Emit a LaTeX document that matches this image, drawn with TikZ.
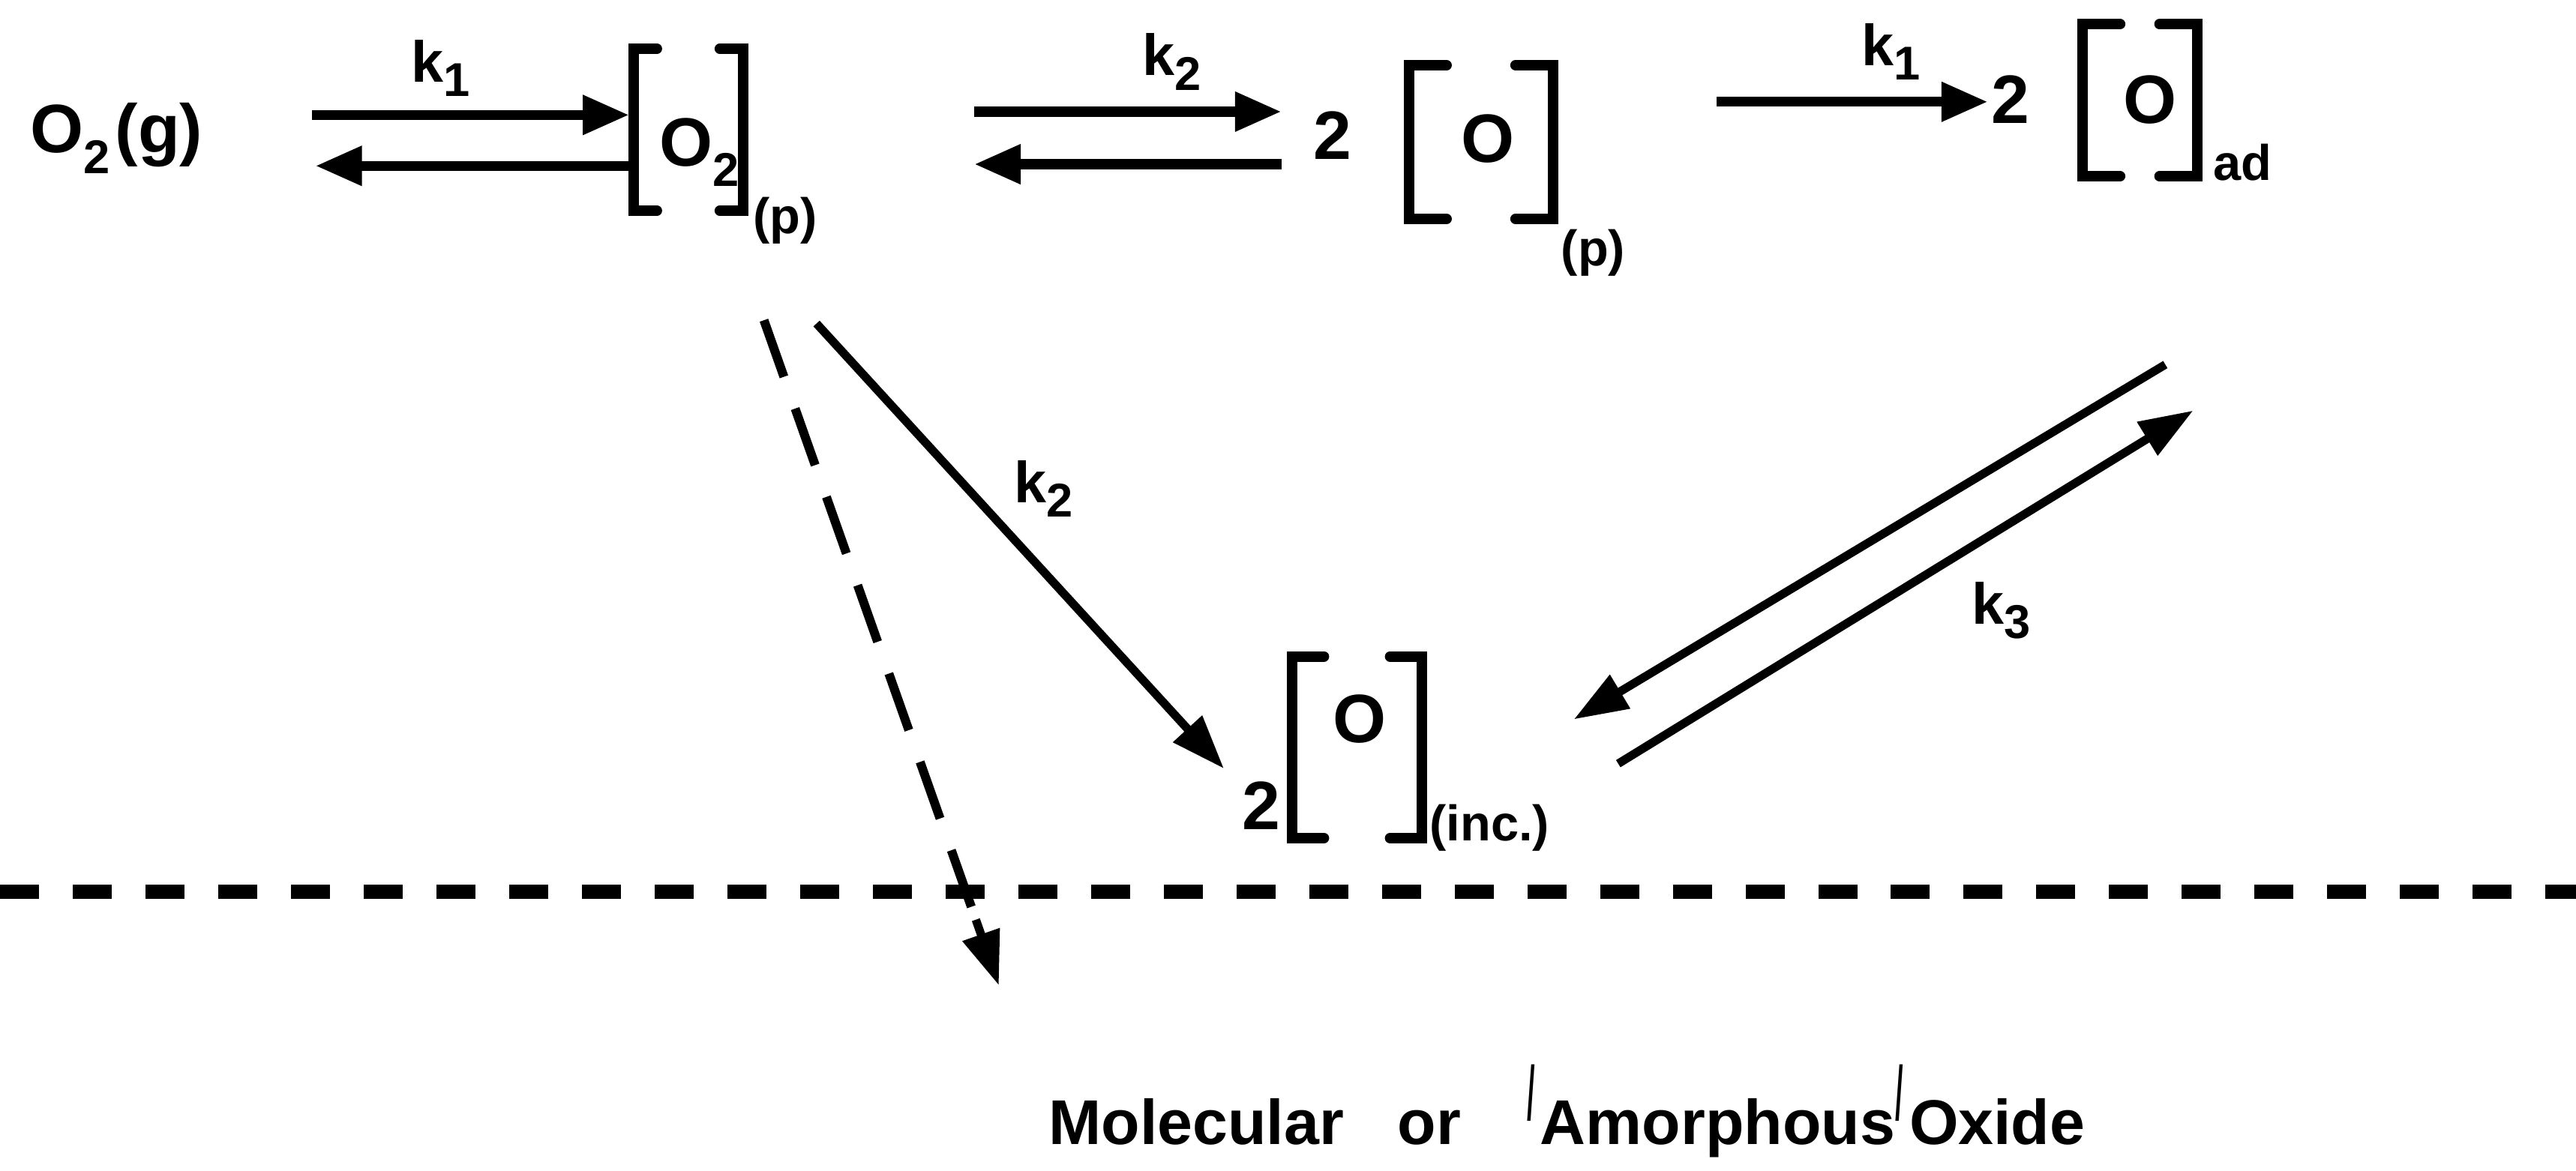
\documentclass[tikz,border=0pt]{standalone}
\usepackage{fontspec}
\usepackage{graphicx}
\setmainfont{Liberation Sans}
\usetikzlibrary{arrows.meta}
\newcommand\subs[2][0.3em]{\raisebox{-#1}{\fontsize{18pt}{20pt}\selectfont\bfseries #2}}
\newcommand\qmark{\raisebox{0.4em}{\scalebox{0.45}[1.2]{/}}}
\newcommand\drawbrk[2]{%
  \draw[brkline] ([xshift=#2]#1.north west) -- (#1.north west) -- (#1.south west) -- ([xshift=#2]#1.south west);
  \draw[brkline] ([xshift=-#2]#1.north east) -- (#1.north east) -- (#1.south east) -- ([xshift=-#2]#1.south east);}
\begin{document}
\begin{tikzpicture}[x=0.021907cm,y=-0.021907cm,
  txt/.style={inner sep=0pt, anchor=base west, font=\fontsize{26pt}{28pt}\selectfont\bfseries},
  lbl/.style={inner sep=0pt, anchor=base west, font=\fontsize{22pt}{26pt}\selectfont\bfseries},
  subt/.style={inner sep=0pt, anchor=base west, font=\fontsize{19pt}{22pt}\selectfont\bfseries},
  bot/.style={inner sep=0pt, anchor=base west, font=\fontsize{24pt}{26pt}\selectfont\bfseries},
  brk/.style={draw=none, inner sep=0pt, rectangle},
  brkline/.style={line width=4pt, line cap=round, line join=miter},
  harr/.style={line width=3.8pt, -{Triangle[length=0.62cm,width=0.5cm]}},
  darr/.style={line width=3.2pt, -{Triangle[length=0.72cm,width=0.5cm]}},
  dline/.style={line width=3.4pt, dash pattern=on 0.8cm off 0.45cm},
  hdash/.style={line width=5.5pt, dash pattern=on 0.52cm off 0.45cm}]
\useasboundingbox (0,0) rectangle (1568,713);
% species
\node[txt] (og) at (18,93) {O\subs{2}\hspace{0.08em}(g)};
\node[brk, minimum width=1.446cm, minimum height=2.147cm] (p1) at (419,79) {};
\node[txt] (p1t) at (401,101) {O\subs{2}};
\node[subt] (p1s) at (458,142) {(p)};
\node[txt] (c2) at (799,97) {2};
\node[brk, minimum width=1.906cm, minimum height=2.037cm] (p2) at (901.5,86.5) {};
\node[txt] (p2t) at (889,99) {O};
\node[subt] (p2s) at (950,162) {(p)};
\node[txt] (c3) at (1212,75) {2};
\node[brk, minimum width=1.512cm, minimum height=2.015cm] (p3) at (1302.5,61) {};
\node[txt] (p3t) at (1292,75) {O};
\node[subt] (p3s) at (1347,110) {ad};
\node[txt] (c4) at (756,505) {2};
\node[brk, minimum width=1.709cm, minimum height=2.41cm] (p4) at (826,455) {};
\node[txt] (p4t) at (811,452) {O};
\node[subt] (p4s) at (870,512) {(inc.)};
\drawbrk{p1}{0.31cm}
\drawbrk{p2}{0.5cm}
\drawbrk{p3}{0.5cm}
\drawbrk{p4}{0.42cm}
% rate labels
\node[lbl] (k1a) at (250,50) {k\subs[0.25em]{1}};
\node[lbl] (k2a) at (695,46) {k\subs[0.25em]{2}};
\node[lbl] (k1b) at (1133,40) {k\subs[0.25em]{1}};
\node[lbl] (k2b) at (617,306) {k\subs[0.25em]{2}};
\node[lbl] (k3) at (1200,380) {k\subs[0.25em]{3}};
% arrow end points
\coordinate (a1s) at (190,70);  \coordinate (a1e) at (383,70);
\coordinate (b1s) at (383,101); \coordinate (b1e) at (192,101);
\coordinate (a2s) at (593,68);  \coordinate (a2e) at (780,68);
\coordinate (b2s) at (780,100); \coordinate (b2e) at (593,100);
\coordinate (a3s) at (1045,62); \coordinate (a3e) at (1210,62);
\coordinate (d1s) at (497,197); \coordinate (d1e) at (745,468);
\coordinate (d2s) at (465,195); \coordinate (d2m) at (594,560); \coordinate (d2e) at (608,600);
\coordinate (d3s) at (1318,222); \coordinate (d3e) at (958,438);
\coordinate (d4s) at (985,465); \coordinate (d4e) at (1335,250);
\draw[harr] (a1s) -- (a1e);
\draw[harr] (b1s) -- (b1e);
\draw[harr] (a2s) -- (a2e);
\draw[harr] (b2s) -- (b2e);
\draw[harr] (a3s) -- (a3e);
\draw[darr] (d1s) -- (d1e);
\draw[darr] (d3s) -- (d3e);
\draw[darr] (d4s) -- (d4e);
\draw[dline] (d2s) -- (d2m);
\draw[darr] (d2m) -- (d2e);
% surface line
\coordinate (hl) at (0,543); \coordinate (hr) at (1568,543);
\draw[hdash] (hl) -- (hr);
% product
\node[bot] (prod) at (638,697) {Molecular\hspace{0.85em}or\hspace{1.05em}\qmark\hspace{0.08em}Amorphous\qmark\hspace{0.1em}Oxide};
\end{tikzpicture}
\end{document}
